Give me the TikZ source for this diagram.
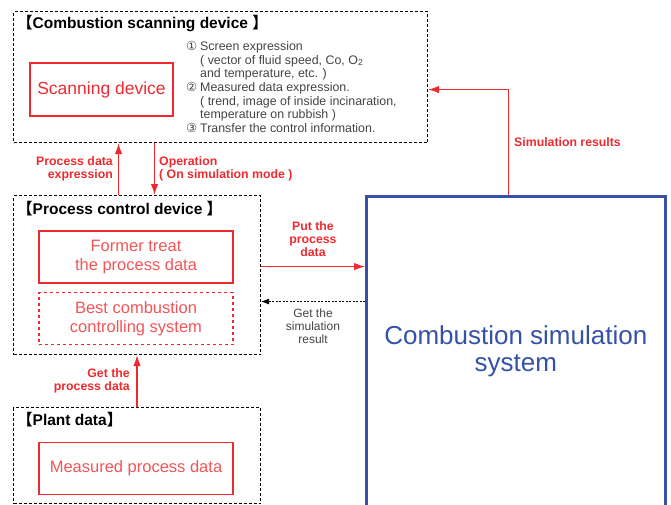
\documentclass[tikz,border=0pt]{standalone}
\usepackage{fontspec}
\setmainfont{Liberation Sans}
\newfontfamily\cjk{Noto Sans CJK JP}
\newfontfamily\symb{DejaVu Sans}
\definecolor{diagRed}{HTML}{EE2A2F}
\definecolor{diagBlue}{HTML}{3652A8}
\definecolor{diagGray}{HTML}{444444}
\usetikzlibrary{positioning,arrows.meta}
\newcommand{\lb}{{\cjk 【}}
\newcommand{\rb}{{\cjk 】}}
\newcommand{\itemno}[1]{\makebox[14pt][l]{\symb #1}}

\begin{document}
\begin{tikzpicture}[x=1pt, y=-1pt,
        group/.style={draw=black, line width=1.1pt, dash pattern=on 3pt off 2pt,
                      inner sep=0pt, anchor=north west},
        grouptitle/.style={anchor=west, inner sep=0pt,
                           font=\fontsize{15.5}{17}\selectfont\bfseries},
        redbox/.style={draw=diagRed, line width=1.3pt, inner sep=0pt,
                       minimum width=194pt, minimum height=52pt, align=center,
                       text=diagRed!80, font=\fontsize{16.5}{19}\selectfont},
        lbl/.style={inner sep=0pt, text=diagRed,
                    font=\fontsize{12.3}{13}\selectfont\bfseries},
        arrow/.style={-{Latex[length=11pt,width=7.5pt]}, draw=diagRed, line width=1.3pt},
      ]
        \clip (0,0) rectangle (671,504);
        % Combustion scanning device
        \node[group, minimum width=414pt, minimum height=131pt] (scan) at (13,11) {};
        \node[grouptitle] (scantitle) at (17,24) {\lb Combustion scanning device \rb};
        \node[redbox, line width=2.4pt, minimum width=143pt, minimum height=53pt,
              text=diagRed, font=\fontsize{17.5}{19}\selectfont] (scandev)
          at (101.5,89.5) {Scanning device};
        \node[anchor=north west, inner sep=0pt, align=left, text=diagGray,
              font=\fontsize{12.4}{13.7}\selectfont] (items) at (186,41)
          {\itemno{①}Screen expression\\
           \hspace*{14pt}( vector of fluid speed, Co, O\textsubscript{2}\\
           \hspace*{14pt}and temperature, etc. )\\
           \itemno{②}Measured data expression.\\
           \hspace*{14pt}( trend, image of inside incinaration,\\
           \hspace*{14pt}temperature on rubbish )\\
           \itemno{③}Transfer the control information.};
        % Process control device
        \node[group, minimum width=247pt, minimum height=159pt] (pc) at (13,195) {};
        \node[grouptitle] (pctitle) at (17,209) {\lb Process control device \rb};
        \node[redbox] (former) at (136,257) {Former treat\\the process data};
        \node[redbox, dashed] (best) at (136,318.5) {Best combustion\\controlling system};
        % Plant data
        \node[group, minimum width=247pt, minimum height=96pt] (plant) at (13,407) {};
        \node[grouptitle] (planttitle) at (17,420) {\lb Plant data\rb};
        \node[redbox] (measured) at (136,468.5) {Measured process data};
        % Simulation system
        \node[draw=diagBlue, line width=2.6pt, anchor=north west, inner sep=0pt,
              minimum width=299pt, minimum height=310pt, align=center,
              text=diagBlue, font=\fontsize{26}{27}\selectfont] (sim)
          at (365,195) {Combustion simulation\\system};
        % Arrows
        \draw[arrow] ([xshift=-18.5pt]pc.north) -- ([xshift=-18.5pt]pc.north |- scan.south);
        \draw[arrow] ([xshift=17.5pt]pc.north |- scan.south) -- ([xshift=17.5pt]pc.north);
        \draw[arrow] (plant.north) -- (pc.south);
        \draw[arrow] ([yshift=8.5pt]pc.east) -- ([yshift=8.5pt]pc.east -| sim.west);
        \draw[-{Latex[length=8pt,width=6pt]}, line width=0.8pt, dash pattern=on 2pt off 1.5pt]
          ([yshift=-26.5pt]pc.east -| sim.west) -- ([yshift=-26.5pt]pc.east);
        \draw[arrow] ([xshift=-7.5pt]sim.north) |- ([yshift=-12.5pt]scan.east);
        % Labels
        \node[lbl, anchor=east, align=right] (pdlabel) at (113,168.5)
          {Process data\\expression};
        \node[lbl, anchor=west, align=left] (oplabel) at (159,168.5)
          {Operation\\( On simulation mode )};
        \node[lbl, align=center] (putlabel) at (313,239) {Put the\\process\\data};
        \node[inner sep=0pt, align=center, text=diagGray,
              font=\fontsize{12}{13}\selectfont] (getlabel) at (313,326)
          {Get the\\simulation\\result};
        \node[lbl, anchor=east, align=right] (plantlabel) at (130,380.5)
          {Get the\\process data};
        \node[lbl, anchor=west] (simlabel) at (514,142) {Simulation results};
      \end{tikzpicture}
\end{document}
